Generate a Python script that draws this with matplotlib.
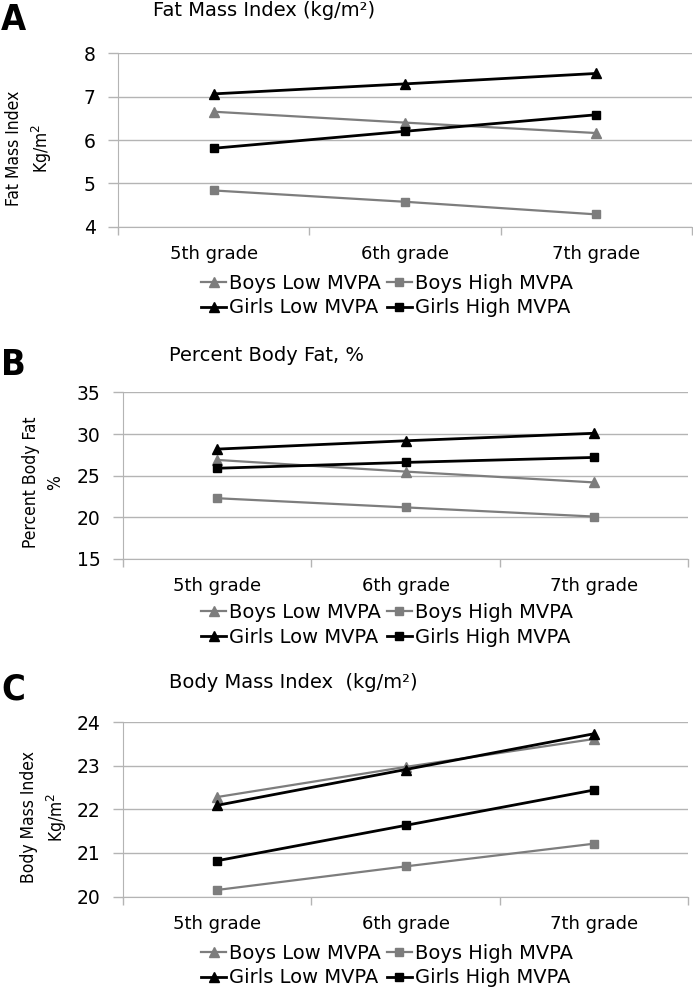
import matplotlib
matplotlib.use("Agg")
import matplotlib.pyplot as plt
from matplotlib import font_manager

# data
grades = ["5th grade", "6th grade", "7th grade"]
series_names = ["Boys Low MVPA", "Boys High MVPA", "Girls Low MVPA", "Girls High MVPA"]

fmi_boys_low = [6.65, 6.40, 6.16]
fmi_boys_high = [4.84, 4.58, 4.29]
fmi_girls_low = [7.06, 7.29, 7.53]
fmi_girls_high = [5.81, 6.20, 6.58]

pbf_boys_low = [26.9, 25.5, 24.2]
pbf_boys_high = [22.3, 21.2, 20.1]
pbf_girls_low = [28.2, 29.2, 30.1]
pbf_girls_high = [25.9, 26.6, 27.2]

bmi_boys_low = [22.28, 22.97, 23.61]
bmi_boys_high = [20.15, 20.69, 21.21]
bmi_girls_low = [22.09, 22.91, 23.73]
bmi_girls_high = [20.82, 21.63, 22.44]

GRAY = "#7d7d7d"
BLACK = "#000000"
GRID = "#b4b4b4"

plt.rcParams["font.family"] = ["DejaVu Sans"]

# narrow font for axis titles and panel letters, if there is one
try:
    font_manager.findfont("Liberation Sans Narrow", fallback_to_default=False)
    NARROW = {"family": "Liberation Sans Narrow"}
except Exception:
    NARROW = {"family": "DejaVu Sans", "stretch": "condensed"}

W, H = 693, 988
fig = plt.figure(figsize=(W / 100, H / 100), dpi=100)


def box(left, right, top, bottom):
    return [left / W, 1 - bottom / H, (right - left) / W, (bottom - top) / H]


def panel(px, data, ylim, yticks, ylabel, lab_right, lab_frac, leg_y):
    left, right, top, bottom = px
    ax = fig.add_axes(box(left, right, top, bottom))
    xs = [0.5, 1.5, 2.5]
    styles = [(GRAY, "^", 1.6), (GRAY, "s", 1.6), (BLACK, "^", 2.0), (BLACK, "s", 2.0)]
    lines = []
    for vals, (c, m, lw), name in zip(data, styles, series_names):
        ms = 7 if m == "^" else 6
        ln, = ax.plot(xs, vals, color=c, marker=m, markersize=ms, lw=lw,
                      label=name, zorder=3)
        lines.append(ln)
    ax.set_xlim(0, 3)
    ax.set_ylim(*ylim)
    ax.set_yticks(yticks)
    ax.set_xticks([0, 1, 2, 3])
    ax.set_xticklabels([])
    ax.set_xticks(xs, minor=True)
    ax.set_xticklabels(grades, minor=True, fontsize=13)
    ax.tick_params(axis="x", which="minor", length=0, pad=13)
    ax.tick_params(axis="x", which="major", length=6, color=GRID, width=1)
    ax.tick_params(axis="y", length=7, color=GRID, width=1, labelsize=13.5, pad=9)
    ax.grid(axis="y", color=GRID, lw=1)
    ax.set_axisbelow(True)
    for s in ["top", "right"]:
        ax.spines[s].set_visible(False)
    for s in ["left", "bottom"]:
        ax.spines[s].set_color(GRID)
    ax.set_ylabel(ylabel, fontsize=12.5, linespacing=1.4, **NARROW)
    ax.yaxis.set_label_coords((lab_right - left) / (right - left), lab_frac)
    order = [0, 2, 1, 3]
    ax.legend([lines[i] for i in order], [series_names[i] for i in order],
              ncol=2, frameon=False, fontsize=14, handlelength=1.3,
              handletextpad=0.15, columnspacing=0.3, labelspacing=0.3,
              borderpad=0, loc="center",
              bbox_to_anchor=(387 / W, 1 - leg_y / H),
              bbox_transform=fig.transFigure)
    return ax


panel((118, 692, 53, 227),
      [fmi_boys_low, fmi_boys_high, fmi_girls_low, fmi_girls_high],
      (4, 8), [4, 5, 6, 7, 8], "Fat Mass Index\nKg/m$^2$", 54, 0.454, 295.5)
panel((123, 688, 392.5, 559),
      [pbf_boys_low, pbf_boys_high, pbf_girls_low, pbf_girls_high],
      (15, 35), [15, 20, 25, 30, 35], "Percent Body Fat\n%", 64, 0.462, 625)
panel((123, 688, 722, 896.5),
      [bmi_boys_low, bmi_boys_high, bmi_girls_low, bmi_girls_high],
      (20, 24), [20, 21, 22, 23, 24], "Body Mass Index\nKg/m$^2$", 69, 0.456, 965.5)

# panel letters and titles
for letter, y in [("A", 20), ("B", 365), ("C", 690)]:
    fig.text(1 / W, 1 - y / H, letter, fontsize=26, fontweight="bold",
             va="center", ha="left", **NARROW)
for title, x, y in [("Fat Mass Index (kg/m²)", 153, 11),
                    ("Percent Body Fat, %", 169, 355),
                    ("Body Mass Index  (kg/m²)", 169, 682)]:
    fig.text(x / W, 1 - y / H, title, fontsize=14, va="center", ha="left")

fig.savefig("out.png", dpi=100)
